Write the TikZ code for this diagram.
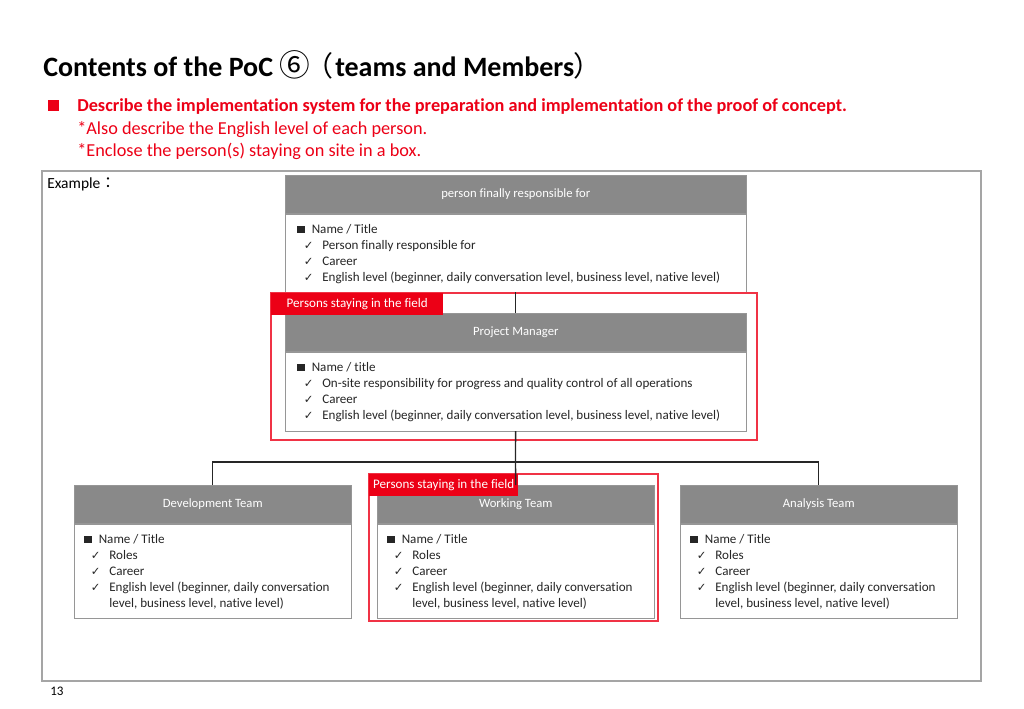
\documentclass[tikz,border=0pt]{standalone}
\usepackage{fontspec}
\setmainfont{Carlito}[Ligatures=NoCommon]
\newfontfamily\cjk{Noto Sans CJK JP}
\newfontfamily\cjkp{Noto Sans CJK JP}[RawFeature=+palt]
\newfontfamily\symfont{DejaVu Sans}
\usepackage{xcolor}
\usetikzlibrary{positioning}

\definecolor{hdrgray}{RGB}{137,137,137}
\definecolor{linegray}{RGB}{150,150,150}
\definecolor{framegray}{RGB}{165,165,165}
\definecolor{alert}{RGB}{236,0,22}

% list marks
\newcommand{\sqb}{\makebox[10.9pt][l]{\raisebox{0.5pt}{\rule{5.5pt}{5.5pt}}}}
\newcommand{\chk}{\hspace*{4.9pt}\makebox[13.9pt][l]{{\symfont\fontsize{8.6}{12}\selectfont ✓}}}
\newcommand{\cont}{\hspace*{18.8pt}}

\begin{document}
\begin{tikzpicture}[
    x=0.75pt, y=-0.75pt,
    font=\fontsize{9.8}{12}\selectfont,
    % Reusable styles
    hdr/.style={
      draw=linegray,
      fill=hdrgray,
      text=white,
      font=\fontsize{9.5}{12}\selectfont,
      anchor=north west,
      inner sep=0pt,
      minimum height=38*0.75pt,
      minimum width=#1
    },
    body/.style 2 args={
      draw=linegray,
      fill=white,
      inner sep=0pt,
      minimum width=#1,
      minimum height=#2
    },
    list/.style={
      anchor=north west,
      align=left,
      inner sep=0pt,
      text=black!85
    },
    flag/.style={
      fill=alert,
      text=white,
      anchor=north west,
      inner sep=0pt,
      minimum height=22*0.75pt,
      minimum width=#1
    },
    field/.style={draw=alert!80, line width=1pt},
    link/.style={draw=black!85, line width=1pt}
  ]
  \useasboundingbox (0,0) rectangle (1024,709);

  % Heading
  \node[anchor=base west, inner sep=0pt, font=\fontsize{21}{27}\selectfont\bfseries] (title) at (43,77)
    {Contents of the PoC {\cjkp\mdseries{\fontsize{23}{27}\selectfont ⑥}\hspace{0.3em}（}\hspace{0.1em}teams and Members{\cjkp\mdseries ）}};
  \node[fill=alert, minimum size=11*0.75pt, inner sep=0pt] (mark) at (53.5,106) {};
  \node[anchor=north west, align=left, inner sep=0pt, text=alert,
        font=\fontsize{13.7}{16.9}\selectfont] (note) at (77,98.5)
    {\textbf{Describe the implementation system for the preparation and implementation of the proof of concept.}\\
     *Also describe the English level of each person.\\
     *Enclose the person(s) staying on site in a box.};

  % Frame
  \draw[framegray, line width=1pt] (42,171) rectangle (981,681);
  \node[anchor=west, inner sep=0pt, font=\fontsize{11.6}{14}\selectfont] (example) at (47,184) {Example{\cjk ：}};
  \node[anchor=west, inner sep=0pt] (page) at (50,691) {13};

  % Nodes
  \node[hdr=461*0.75pt] (chief) at (285,175) {person finally responsible for};
  \node[body={461*0.75pt}{78*0.75pt}, below=0pt of chief] (chiefbody) {};
  \node[list] (chieftxt) at (297,224.5) {\sqb Name / Title\\
    \chk Person finally responsible for\\
    \chk Career\\
    \chk English level (beginner, daily conversation level, business level, native level)};

  \node[hdr=461*0.75pt] (pm) at (285,313) {Project Manager};
  \node[body={461*0.75pt}{79*0.75pt}, below=0pt of pm] (pmbody) {};
  \node[list] (pmtxt) at (297,362.5) {\sqb Name / title\\
    \chk On-site responsibility for progress and quality control of all operations\\
    \chk Career\\
    \chk English level (beginner, daily conversation level, business level, native level)};

  \node[hdr=277*0.75pt] (dev) at (74,485) {Development Team};
  \node[body={277*0.75pt}{94*0.75pt}, below=0pt of dev] (devbody) {};
  \node[hdr=277*0.75pt] (work) at (377,485) {Working Team};
  \node[body={277*0.75pt}{94*0.75pt}, below=0pt of work] (workbody) {};
  \node[hdr=277*0.75pt] (ana) at (680,485) {Analysis Team};
  \node[body={277*0.75pt}{94*0.75pt}, below=0pt of ana] (anabody) {};

  \foreach \t/\x in {devtxt/84, worktxt/387, anatxt/690}
    \node[list] (\t) at (\x,534.5) {\sqb Name / Title\\
      \chk Roles\\
      \chk Career\\
      \chk English level (beginner, daily conversation\\
      \cont level, business level, native level)};

  % Sites
  \draw[field] (271,293) rectangle (757,440);
  \node[flag=172*0.75pt] (pmflag) at (271,293) {Persons staying in the field};
  \draw[field] (369,474) rectangle (658,621);
  \node[flag=149*0.75pt] (workflag) at (369,474) {Persons staying in the field};

  % Edges
  \coordinate (bus) at (515.5,462);
  \draw[link] (chiefbody) -- (pm);
  \draw[link] (pmbody) -- (bus);
  \draw[link] (dev.north) |- (bus) -| (ana.north);
  \draw[link] (bus) -- (work.north);
\end{tikzpicture}
\end{document}
